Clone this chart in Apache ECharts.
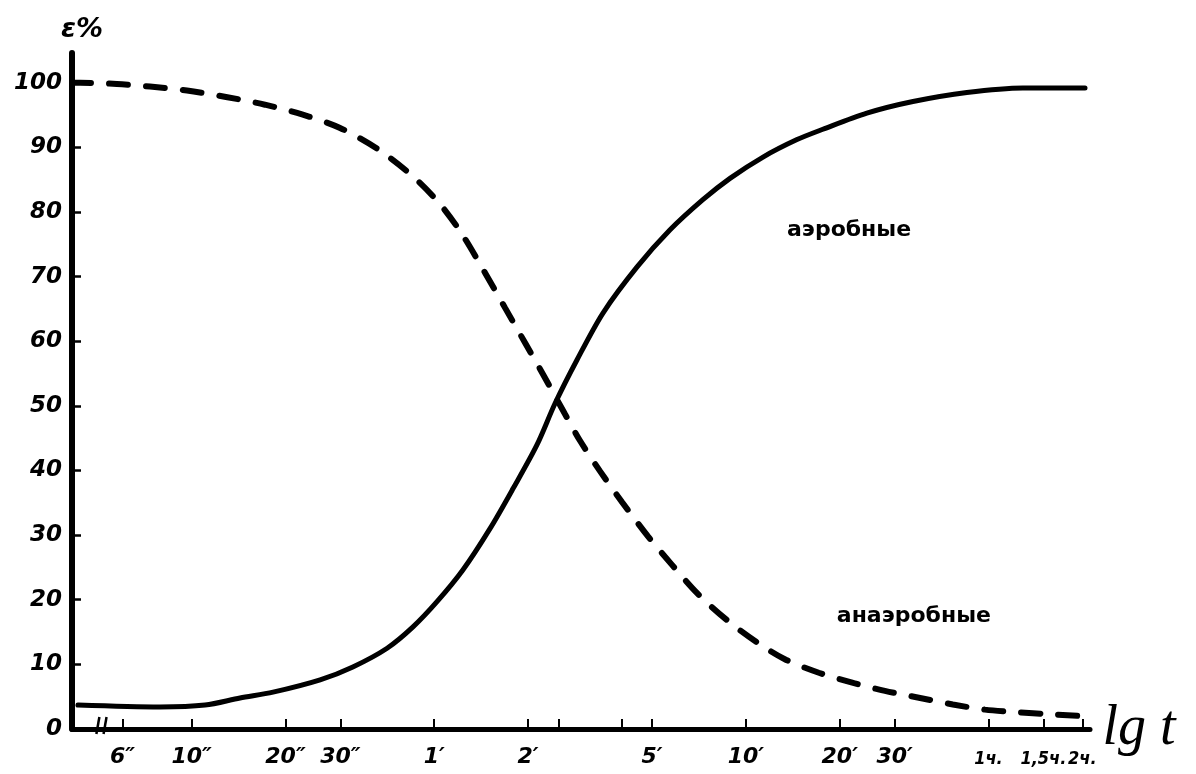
<!DOCTYPE html>
<html>
<head>
<meta charset="utf-8">
<script src="https://cdn.jsdelivr.net/npm/echarts@6/dist/echarts.min.js"></script>
<style>
  html, body { margin: 0; padding: 0; background: #fff; }
  #chart { width: 1196px; height: 774px; }
</style>
</head>
<body>
<div id="chart"></div>
<script>
// Aerobic share of energy supply, E% against lg t (t in seconds)
const aerobicLg  = [0.635, 0.898, 1.043, 1.155, 1.261, 1.412, 1.517, 1.627, 1.710, 1.787, 1.870, 1.957, 2.031, 2.108, 2.166, 2.236, 2.320, 2.429, 2.534, 2.640, 2.727, 2.833, 2.942, 3.025, 3.166, 3.314, 3.487, 3.667, 3.866];
const aerobicPct = [3.7, 3.4, 3.7, 4.8, 5.7, 7.6, 9.6, 12.5, 15.8, 19.7, 24.6, 31.0, 37.2, 44.0, 50.4, 57.1, 64.4, 71.5, 77.2, 81.9, 85.2, 88.5, 91.2, 92.8, 95.3, 97.1, 98.5, 99.2, 99.2];

// Anaerobic share
const anaerobicLg  = [0.616, 0.642, 0.760, 0.866, 0.985, 1.110, 1.235, 1.354, 1.476, 1.598, 1.710, 1.797, 1.867, 1.941, 2.005, 2.069, 2.127, 2.166, 2.198, 2.246, 2.310, 2.381, 2.464, 2.541, 2.624, 2.721, 2.814, 2.903, 3.012, 3.125, 3.224, 3.337, 3.442, 3.545, 3.651, 3.747, 3.857];
const anaerobicPct = [100.0, 100.0, 99.8, 99.4, 98.8, 97.8, 96.6, 95.1, 93.0, 89.7, 85.5, 81.2, 76.6, 70.6, 65.2, 59.8, 54.9, 51.5, 48.7, 44.6, 39.9, 35.1, 29.8, 25.4, 20.9, 16.7, 13.4, 10.8, 8.7, 7.1, 5.9, 4.8, 3.8, 3.0, 2.6, 2.3, 2.0];

// Time axis ticks (seconds) and their labels; empty label = plain tick
const tickSeconds = [6, 10, 20, 30, 60, 120, 150, 240, 300, 600, 1200, 1800, 3600, 5400, 7200];
const tickLabels  = ['6″', '10″', '20″', '30″', '1′', '2′', '', '', '5′', '10′', '20′', '30′', '1ч.', '1,5ч.', '2ч.'];

// Percent axis ticks
const pctTicks = [0, 10, 20, 30, 40, 50, 60, 70, 80, 90, 100];

// Curve captions: [lg t, E%, text]
const aerobicCaption   = [3.109, 77.2, 'аэробные'];
const anaerobicCaption = [3.317, 17.5, 'анаэробные'];

// Axis-break strokes near the origin (lg t)
const breakMarks = [0.699, 0.722];

const pairs = (xs, ys) => xs.map((x, i) => [x, ys[i]]);
const tickLg = tickSeconds.map(s => Math.log10(s));
const labelLg = tickLg.filter((v, i) => tickLabels[i] !== '');
const labelFor = v => {
  let best = 0, d = Infinity;
  tickLg.forEach((t, i) => { const e = Math.abs(t - v); if (e < d) { d = e; best = i; } });
  const text = tickLabels[best];
  // hour labels sit close together at the end of the axis, so they use the narrow style
  return text.indexOf('ч') >= 0 ? '{h|' + text + '}' : text;
};

const handFont = {
  fontFamily: 'DejaVu Sans',
  fontStyle: 'italic',
  fontWeight: 'bold',
  fontSize: 23,
  color: '#000'
};

const captionLabel = text => ({
  show: true,
  position: 'inside',
  formatter: text,
  fontFamily: 'DejaVu Sans',
  fontWeight: 'bold',
  fontSize: 22,
  color: '#000'
});

const chart = echarts.init(document.getElementById('chart'), null, { renderer: 'canvas' });

chart.setOption({
  backgroundColor: '#fff',
  animation: false,
  grid: { left: 72, right: 106, top: 53, bottom: 45, containLabel: false, outerBoundsMode: 'none' },
  xAxis: {
    type: 'value',
    min: 0.616,
    max: 3.882,
    name: 'lg t',
    nameLocation: 'end',
    nameGap: 10,
    nameTextStyle: {
      fontFamily: 'Liberation Serif',
      fontStyle: 'italic',
      fontSize: 56,
      color: '#000',
      verticalAlign: 'middle',
      padding: [46, 0, 0, 0]
    },
    axisLine: { show: true, lineStyle: { color: '#000', width: 5 } },
    axisTick: { show: true, inside: true, length: 10, customValues: tickLg, lineStyle: { color: '#000', width: 2 } },
    axisLabel: {
      ...handFont,
      fontSize: 22,
      margin: 17,
      customValues: labelLg,
      hideOverlap: false,
      showMinLabel: true,
      showMaxLabel: true,
      formatter: v => labelFor(v),
      rich: {
        h: {
          fontFamily: 'DejaVu Sans Condensed',
          fontStyle: 'italic',
          fontWeight: 'bold',
          fontSize: 18,
          padding: [4, 0, 0, 0],
          color: '#000'
        }
      }
    },
    splitLine: { show: false }
  },
  yAxis: {
    type: 'value',
    min: 0,
    max: 104.6,
    name: 'ε%',
    nameLocation: 'end',
    nameGap: 10,
    nameTextStyle: { ...handFont, fontSize: 27, padding: [0, 0, 0, 20] },
    axisLine: { show: true, lineStyle: { color: '#000', width: 6 } },
    axisTick: { show: true, inside: true, length: 9, customValues: pctTicks, lineStyle: { color: '#000', width: 2.5 } },
    axisLabel: { ...handFont, margin: 10, customValues: pctTicks, hideOverlap: false },
    splitLine: { show: false }
  },
  series: [
    {
      name: 'аэробные',
      type: 'line',
      data: pairs(aerobicLg, aerobicPct),
      smooth: 0.3,
      showSymbol: false,
      lineStyle: { color: '#000', width: 5, cap: 'round' },
      markPoint: {
        symbol: 'circle',
        symbolSize: 1,
        itemStyle: { color: 'rgba(0,0,0,0)' },
        label: captionLabel(aerobicCaption[2]),
        data: [{ coord: [aerobicCaption[0], aerobicCaption[1]] }]
      }
    },
    {
      name: 'анаэробные',
      type: 'line',
      data: pairs(anaerobicLg, anaerobicPct),
      smooth: 0.3,
      showSymbol: false,
      lineStyle: { color: '#000', width: 6, type: [19, 18], cap: 'round' },
      markPoint: {
        symbol: 'circle',
        symbolSize: 1,
        itemStyle: { color: 'rgba(0,0,0,0)' },
        label: captionLabel(anaerobicCaption[2]),
        data: [{ coord: [anaerobicCaption[0], anaerobicCaption[1]] }]
      }
    }
  ]
});

// Axis-break strokes on the time axis
const y0 = chart.convertToPixel({ yAxisIndex: 0 }, 0);
chart.setOption({
  graphic: breakMarks.map(lg => {
    const x = chart.convertToPixel({ xAxisIndex: 0 }, lg);
    return {
      type: 'line',
      shape: { x1: x + 1.5, y1: y0 - 12, x2: x - 1.5, y2: y0 + 5 },
      style: { stroke: '#000', lineWidth: 2.5 }
    };
  })
});
</script>
</body>
</html>
